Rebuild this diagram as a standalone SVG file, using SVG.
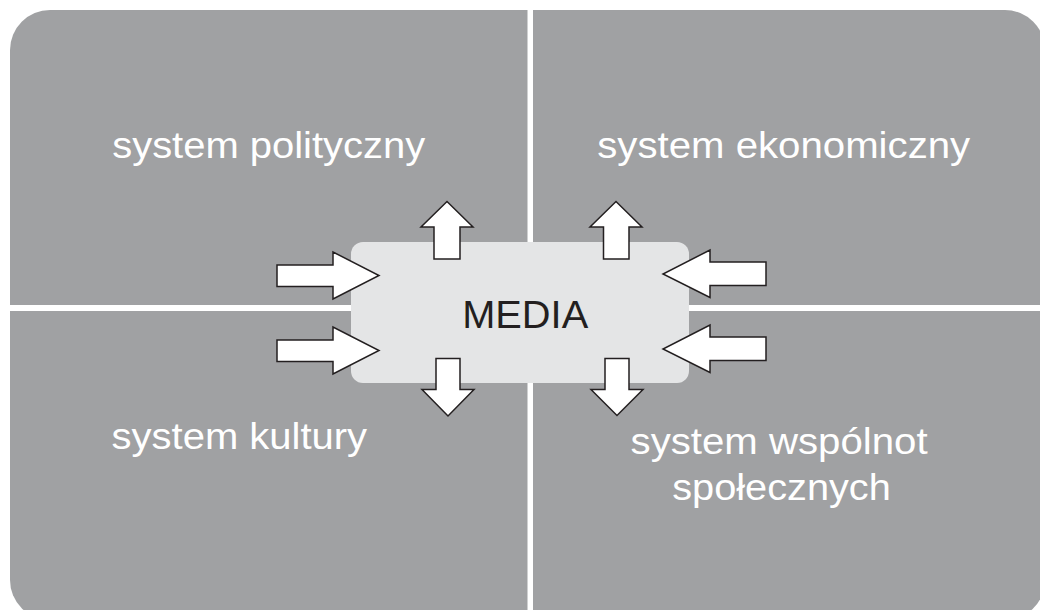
<svg xmlns="http://www.w3.org/2000/svg" width="1040" height="610" viewBox="0 0 1040 610">
  <style>
    .quad { fill: #a0a1a3; }
    .qlabel { font-family: "Liberation Sans", Arial, sans-serif; font-size: 37px; fill: #ffffff; }
    .media { fill: #e4e5e6; }
    .mlabel { font-family: "Liberation Sans", Arial, sans-serif; font-size: 38px; fill: #231f20; }
    .arrow { fill: #ffffff; stroke: #231f20; stroke-width: 1.5; stroke-linejoin: miter; }
  </style>
  <rect x="0" y="0" width="1040" height="610" fill="#ffffff"/>
  <g id="system-polityczny">
    <path class="quad" d="M10,50 A40,40 0 0 1 50,10 L527.5,10 L527.5,305 L10,305 Z"/>
    <text class="qlabel" x="112.2" y="157.5" textLength="313" lengthAdjust="spacingAndGlyphs">system polityczny</text>
  </g>
  <g id="system-ekonomiczny">
    <path class="quad" d="M533,10 L1005,10 A40,40 0 0 1 1045,50 L1045,305 L533,305 Z"/>
    <text class="qlabel" x="597.2" y="157.5" textLength="373" lengthAdjust="spacingAndGlyphs">system ekonomiczny</text>
  </g>
  <g id="system-kultury">
    <path class="quad" d="M10,311 L527.5,311 L527.5,620 L50,620 A40,40 0 0 1 10,580 Z"/>
    <text class="qlabel" x="111.6" y="448.5" textLength="255.5" lengthAdjust="spacingAndGlyphs">system kultury</text>
  </g>
  <g id="system-wspolnot">
    <path class="quad" d="M533,311 L1045,311 L1045,580 A40,40 0 0 1 1005,620 L533,620 Z"/>
    <text class="qlabel" x="630.6" y="453.5" textLength="297" lengthAdjust="spacingAndGlyphs">system wspólnot</text>
    <text class="qlabel" x="672.2" y="500" textLength="218.6" lengthAdjust="spacingAndGlyphs">społecznych</text>
  </g>
  <g id="media">
    <rect class="media" x="351" y="242" width="338" height="141" rx="12" ry="12"/>
    <text class="mlabel" x="462.2" y="327.7" textLength="126" lengthAdjust="spacingAndGlyphs">MEDIA</text>
  </g>
  <g id="connectors">
    <polygon class="arrow" points="277,265 333,265 333,252 379,275.5 333,299 333,286.5 277,286.5"/>
    <polygon class="arrow" points="277,340 333,340 333,327 379,350.5 333,374 333,361.5 277,361.5"/>
    <polygon class="arrow" points="766,262 710,262 710,250 663,274 710,297.5 710,285.5 766,285.5"/>
    <polygon class="arrow" points="766,337 710,337 710,325 663,349 710,372.5 710,360.5 766,360.5"/>
    <polygon class="arrow" points="434,259 434,227 421,227 447,201.5 473,227 460,227 460,259"/>
    <polygon class="arrow" points="436,358.5 460,358.5 460,389.5 474,389.5 448,416 422,389.5 436,389.5"/>
    <polygon class="arrow" points="603.5,259 603.5,227 590,227 616,201.5 642,227 629,227 629,259"/>
    <polygon class="arrow" points="605,358.5 629,358.5 629,389.5 643,389.5 617,415.5 591,389.5 605,389.5"/>
  </g>
</svg>
